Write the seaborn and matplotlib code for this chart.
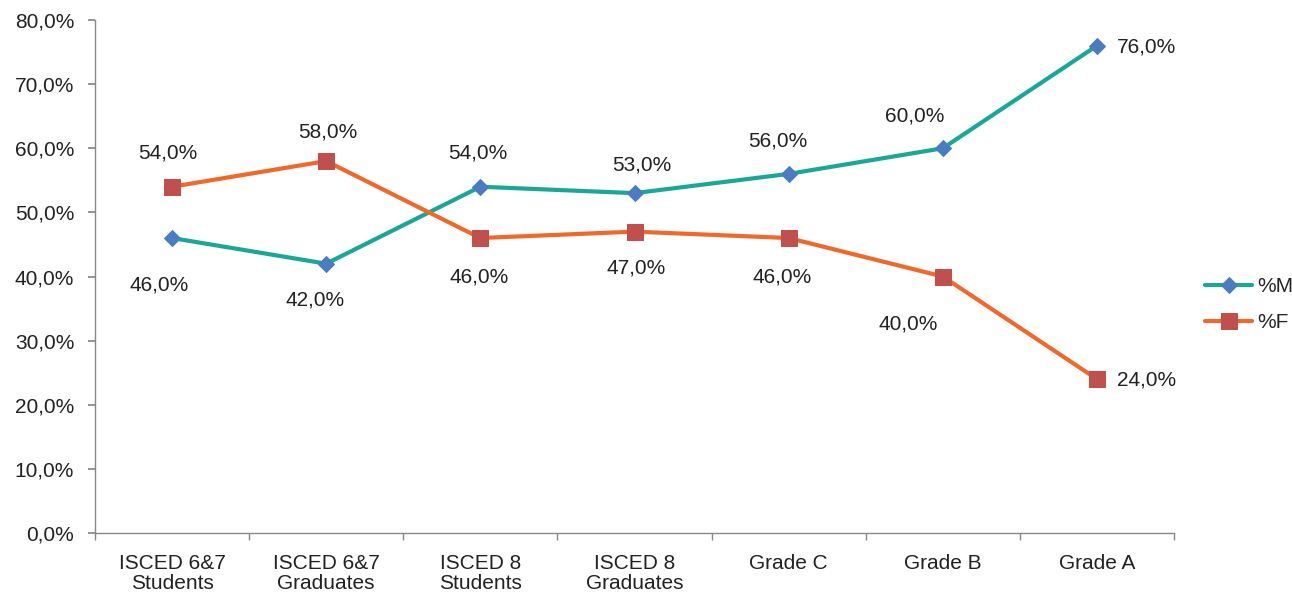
import matplotlib
matplotlib.use("Agg")
import matplotlib.pyplot as plt
import seaborn as sns
import pandas as pd
import numpy as np
from matplotlib.ticker import FuncFormatter, FixedLocator

categories = ["ISCED 6&7\nStudents", "ISCED 6&7\nGraduates", "ISCED 8\nStudents",
              "ISCED 8\nGraduates", "Grade C", "Grade B", "Grade A"]
male = [46.0, 42.0, 54.0, 53.0, 56.0, 60.0, 76.0]
female = [54.0, 58.0, 46.0, 47.0, 46.0, 40.0, 24.0]
yticks = [0, 10, 20, 30, 40, 50, 60, 70, 80]

# label offsets in points (dx, dy)
male_off = [(-9, -34), (-8, -26), (-2, 24), (5, 20), (-8, 24), (-20, 23), (36, -1)]
female_off = [(-3, 24), (1, 21), (-1, -28), (1, -26), (-5, -28), (-25, -34), (36, -1)]

sns.set_theme(style="white")
plt.rcParams['font.family'] = ['Liberation Sans', 'DejaVu Sans']

FS = 15
fig = plt.figure(figsize=(12.92, 5.94), dpi=100)
ax = fig.add_axes([0.0735, 0.1027, 0.8352, 0.8636])

x = np.arange(len(categories))
df = pd.DataFrame({"x": x, "%M": male, "%F": female})

teal = "#1aa896"
orange = "#f0692a"
sns.lineplot(data=df, x="x", y="%M", ax=ax, color=teal, lw=3, marker="D",
             markersize=8, markerfacecolor="#4a7cc0", markeredgecolor="#4a7cc0",
             label="%M")
sns.lineplot(data=df, x="x", y="%F", ax=ax, color=orange, lw=3, marker="s",
             markersize=11, markerfacecolor="#c0504d", markeredgecolor="#c0504d",
             label="%F")

fmt = lambda v: f"{v:.1f}%".replace(".", ",")
for i, v in enumerate(male):
    ax.annotate(fmt(v), (x[i], v), xytext=male_off[i], textcoords="offset points",
                ha="center", va="center", fontsize=FS, color="#222222")
for i, v in enumerate(female):
    ax.annotate(fmt(v), (x[i], v), xytext=female_off[i], textcoords="offset points",
                ha="center", va="center", fontsize=FS, color="#222222")

ax.set_xlim(-0.5, len(categories) - 0.5)
ax.set_ylim(0, 80)
ax.set_yticks(yticks)
ax.yaxis.set_major_formatter(FuncFormatter(lambda v, p: fmt(v)))
ax.set_xticks(x)
ax.set_xticklabels(categories, fontsize=FS, color="#222222", linespacing=1.1)
ax.xaxis.set_minor_locator(FixedLocator(np.arange(-0.5, len(categories), 1.0)))
ax.tick_params(axis="x", which="major", length=0, pad=15)
ax.tick_params(axis="x", which="minor", length=5, color="#888888", bottom=True)
ax.tick_params(axis="y", length=5, color="#888888", left=True, labelsize=FS,
               labelcolor="#222222", pad=10)
ax.set_xlabel("")
ax.set_ylabel("")
for s in ["top", "right"]:
    ax.spines[s].set_visible(False)
for s in ["left", "bottom"]:
    ax.spines[s].set_color("#888888")
    ax.spines[s].set_linewidth(1)

ax.legend(loc="center left", bbox_to_anchor=(1.029, 0.445), frameon=False,
          fontsize=FS, handlelength=2.25, labelspacing=0.8, handletextpad=0.25,
          borderpad=0, borderaxespad=0)

fig.savefig("out.png", dpi=100)
